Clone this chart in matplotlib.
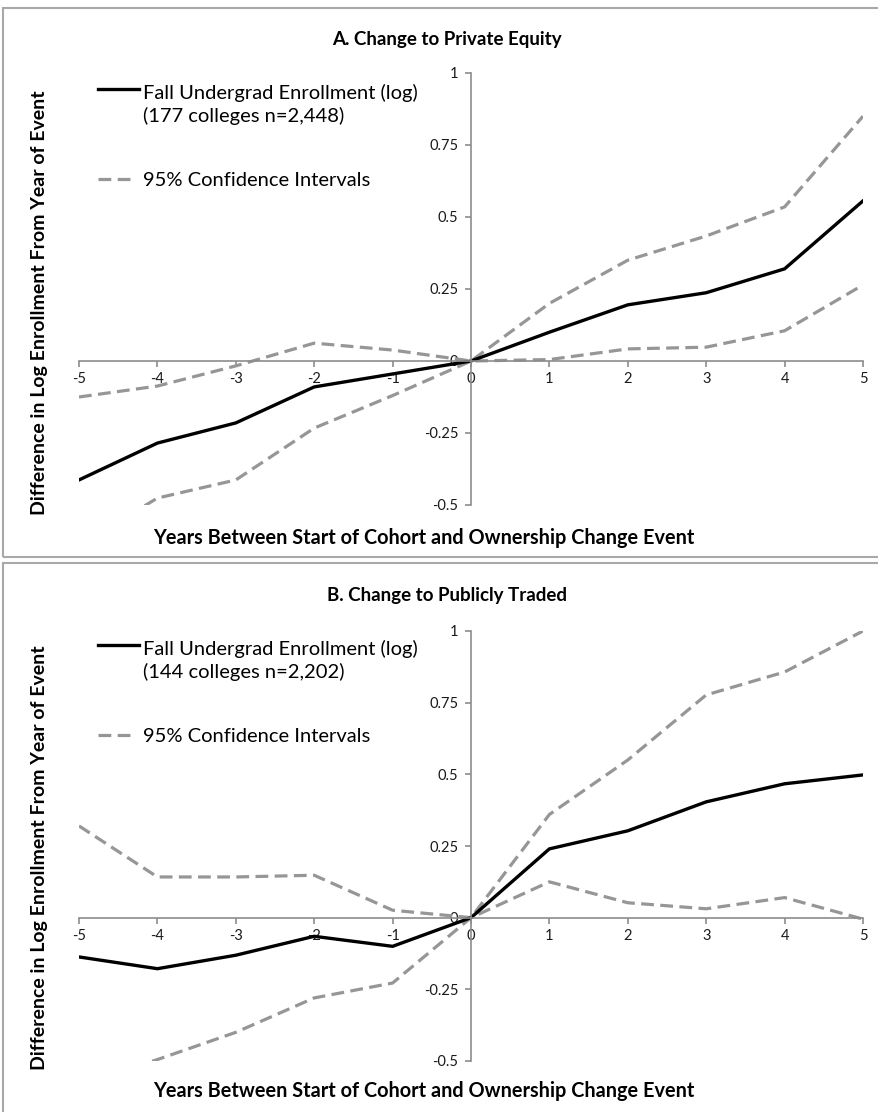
import matplotlib
matplotlib.use('Agg')
import matplotlib.pyplot as plt
from matplotlib.patches import Rectangle

plt.rcParams['font.family'] = ['Lato', 'DejaVu Sans']

# years relative to event
years = [-5, -4, -3, -2, -1, 0, 1, 2, 3, 4, 5]

# panel A: change to private equity
pe_est = [-0.413, -0.285, -0.215, -0.09, -0.045, 0.0, 0.10, 0.195, 0.237, 0.32, 0.556]
pe_hi = [-0.125, -0.087, -0.017, 0.062, 0.038, 0.0, 0.20, 0.35, 0.434, 0.535, 0.85]
pe_lo = [-0.64, -0.476, -0.413, -0.233, -0.12, 0.0, 0.005, 0.042, 0.048, 0.105, 0.264]

# panel B: change to publicly traded
pt_est = [-0.137, -0.178, -0.131, -0.065, -0.10, 0.0, 0.24, 0.303, 0.404, 0.467, 0.498]
pt_hi = [0.32, 0.142, 0.142, 0.148, 0.026, 0.0, 0.36, 0.55, 0.777, 0.857, 1.0]
pt_lo = [-0.58, -0.495, -0.40, -0.28, -0.228, 0.0, 0.125, 0.052, 0.031, 0.07, -0.005]

yticks = [-0.5, -0.25, 0, 0.25, 0.5, 0.75, 1]
ytick_labels = ['-0.5', '-0.25', '0', '0.25', '0.5', '0.75', '1']

W, H = 879, 1112
fig = plt.figure(figsize=(W / 100, H / 100), dpi=100)

axis_col = '#8c8c8c'
ci_col = '#969696'
box_col = '#a8a8a8'
dash = (4, 2)

# panel frames
fig.patches.append(Rectangle((3 / W, 1 - 557 / H), 1, (557 - 8) / H, transform=fig.transFigure,
                             fill=False, ec=box_col, lw=1.5))
fig.patches.append(Rectangle((3 / W, 1 - 1114 / H), 1, (1114 - 563) / H, transform=fig.transFigure,
                             fill=False, ec=box_col, lw=1.5))


def panel(top_px, bot_px, est, hi, lo, title, title_y, ylab_y, xlab_y, leg_y, n_text):
    ax = fig.add_axes([79 / W, 1 - bot_px / H, (863 - 79) / W, (bot_px - top_px) / H])
    ax.patch.set_alpha(0)
    ax.plot(years, hi, color=ci_col, lw=2.3, dashes=dash)
    ax.plot(years, lo, color=ci_col, lw=2.3, dashes=dash)
    ax.plot(years, est, color='black', lw=2.4, solid_joinstyle='miter')
    ax.set_xlim(-5, 5)
    ax.set_ylim(-0.5, 1)
    for s in ['top', 'right']:
        ax.spines[s].set_visible(False)
    ax.spines['left'].set_position(('data', 0))
    ax.spines['bottom'].set_position(('data', 0))
    for s in ['left', 'bottom']:
        ax.spines[s].set_color(axis_col)
        ax.spines[s].set_linewidth(1.2)
    ax.set_xticks(years)
    ax.set_xticklabels([str(y) for y in years])
    ax.set_yticks(yticks)
    ax.set_yticklabels(ytick_labels)
    ax.tick_params(colors=axis_col, labelcolor='#1a1a1a', labelsize=10.5, length=4, width=1.2)
    ax.tick_params(axis='y', pad=5)
    ax.tick_params(axis='x', pad=4)

    fig.text(447 / W, 1 - title_y / H, title, ha='center', va='center',
             fontsize=13.5, fontweight='bold')
    fig.text(424 / W, 1 - xlab_y / H, 'Years Between Start of Cohort and Ownership Change Event',
             ha='center', va='center', fontsize=14.3, fontweight='bold')
    fig.text(40 / W, 1 - ylab_y / H, 'Difference in Log Enrollment From Year of Event',
             ha='center', va='center', rotation=90, fontsize=14, fontweight='bold')

    # legend drawn as lines + text in figure space
    fig.lines.append(plt.Line2D([98 / W, 139 / W], [1 - leg_y / H] * 2, transform=fig.transFigure,
                                color='black', lw=2.4))
    fig.text(143 / W, 1 - (leg_y + 4) / H, 'Fall Undergrad Enrollment (log)', ha='left',
             va='center', fontsize=14.5)
    fig.text(143 / W, 1 - (leg_y + 27) / H, n_text, ha='left', va='center', fontsize=14.5)
    fig.lines.append(plt.Line2D([98 / W, 136 / W], [1 - (leg_y + 90) / H] * 2,
                                transform=fig.transFigure, color=ci_col, lw=2.3, dashes=dash))
    fig.text(143 / W, 1 - (leg_y + 91) / H, '95% Confidence Intervals', ha='left',
             va='center', fontsize=14.5)
    return ax


panel(73, 505, pe_est, pe_hi, pe_lo, 'A. Change to Private Equity', 40, 303, 538, 89,
      '(177 colleges n=2,448)')
panel(631, 1061, pt_est, pt_hi, pt_lo, 'B. Change to Publicly Traded', 595, 858, 1091, 645,
      '(144 colleges n=2,202)')

fig.savefig('out.png', dpi=100)
